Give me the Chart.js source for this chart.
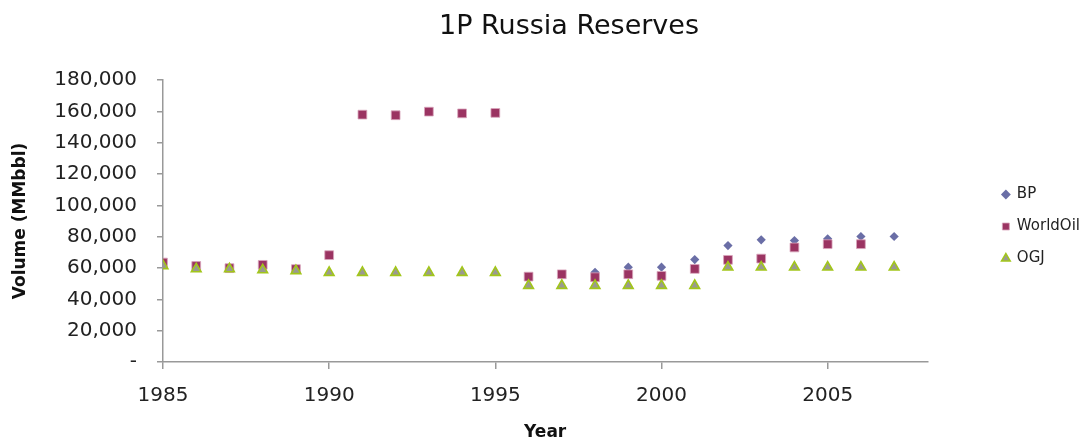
<!DOCTYPE html>
<html>
<head>
<meta charset="utf-8">
<script src="https://cdn.jsdelivr.net/npm/chart.js@4"></script>
<style>
  html, body { margin: 0; padding: 0; background: #fff; }
  #wrap { width: 1086px; height: 441px; }
</style>
</head>
<body>
<div id="wrap"><canvas id="reserves-chart" width="1086" height="441"></canvas></div>
<script>
const years = [1985, 1986, 1987, 1988, 1989, 1990, 1991, 1992, 1993, 1994, 1995, 1996,
               1997, 1998, 1999, 2000, 2001, 2002, 2003, 2004, 2005, 2006, 2007];
const bp = [null, null, null, null, null, null, null, null, null, null, null, null,
            null, 57300, 60500, 60500, 65400, 74300, 78000, 77500, 78600, 80100, 80100];
const worldOil = [63500, 61300, 59900, 62000, 59300, 68200, 157900, 157500, 159800, 158700, 159000, 54500,
                  56000, 54100, 56000, 55000, 59400, 65200, 66000, 73100, 75200, 75200, null];
const ogj = [61400, 59400, 59400, 58800, 58200, 57100, 57100, 57100, 57100, 57100, 57100, 48800,
             48800, 48800, 48800, 48800, 48800, 60500, 60500, 60500, 60500, 60500, 60500];
const yTicks = [0, 20000, 40000, 60000, 80000, 100000, 120000, 140000, 160000, 180000];

const FONT = '"DejaVu Sans", Verdana, sans-serif';

function pairs(values) {
    return years.map((y, i) => ({ x: y, y: values[i] }));
}

// chart title, centred where the original had it
const titlePlugin = {
    id: 'plotTitle',
    afterDraw(chart) {
        const ctx = chart.ctx;
        ctx.save();
        ctx.font = '27px ' + FONT;
        ctx.fillStyle = '#111';
        ctx.textAlign = 'center';
        ctx.textBaseline = 'middle';
        ctx.fillText('1P Russia Reserves', 569, 27);
        ctx.restore();
    }
};

// move the legend box off the plot edge, like the original
const legendShift = {
    id: 'legendShift',
    afterLayout(chart) {
        const lg = chart.legend;
        lg.left += 58; lg.right += 58;
        lg.top -= 34; lg.bottom -= 34;
    }
};

const ctx = document.getElementById('reserves-chart').getContext('2d');
const reservesChart = new Chart(ctx, {
    type: 'scatter',
    data: {
        datasets: [{
            label: 'BP',
            data: pairs(bp),
            pointStyle: 'rectRot',
            pointRadius: 4.6,
            backgroundColor: '#6a6ea6',
            borderColor: '#6a6ea6',
            borderWidth: 0,
            order: 3
        }, {
            label: 'WorldOil',
            data: pairs(worldOil),
            pointStyle: 'rect',
            pointRadius: 6.2,
            backgroundColor: '#9b3462',
            borderColor: '#d9a6bd',
            borderWidth: 0.8,
            order: 2
        }, {
            label: 'OGJ',
            data: pairs(ogj),
            pointStyle: 'triangle',
            pointRadius: 5.6,
            backgroundColor: '#9a9a90',
            borderColor: '#a2c61a',
            borderWidth: 1.6,
            order: 1
        }]
    },
    options: {
        responsive: false,
        animation: false,
        layout: { padding: { top: 80, right: 54, bottom: 0, left: 0 } },
        plugins: {
            title: { display: false },
            tooltip: { enabled: false },
            legend: {
                position: 'right',
                labels: {
                    usePointStyle: true,
                    boxWidth: 7,
                    boxHeight: 7,
                    padding: 17,
                    color: '#222',
                    font: { family: FONT, size: 15 },
                    sort: (a, b) => a.datasetIndex - b.datasetIndex
                }
            }
        },
        scales: {
            x: {
                type: 'linear',
                min: 1985,
                max: 2008,
                afterFit(scale) { scale.height = 79; },
                grid: { drawOnChartArea: false, drawTicks: true, tickLength: 7, color: '#999', lineWidth: 1.5 },
                border: { color: '#999', width: 1.5 },
                ticks: {
                    stepSize: 5,
                    includeBounds: false,
                    padding: 15,
                    color: '#222',
                    font: { family: FONT, size: 20 },
                    callback: (v) => String(v)
                },
                title: {
                    display: true,
                    text: 'Year',
                    color: '#111',
                    padding: { top: 0, bottom: -2 },
                    font: { family: FONT, size: 17, weight: 'bold' }
                }
            },
            y: {
                min: 0,
                max: 180000,
                afterFit(scale) { scale.width = 163; },
                afterBuildTicks(scale) { scale.ticks = yTicks.map(v => ({ value: v })); },
                grid: { drawOnChartArea: false, drawTicks: true, tickLength: 6, color: '#999', lineWidth: 1.5 },
                border: { color: '#999', width: 1.5 },
                ticks: {
                    padding: 20,
                    color: '#222',
                    font: { family: FONT, size: 20 },
                    callback: (v) => v === 0 ? '-' : v.toLocaleString('en-US')
                },
                title: {
                    display: true,
                    text: 'Volume (MMbbl)',
                    color: '#111',
                    padding: { top: 10, bottom: 0 },
                    font: { family: FONT, size: 17, weight: 'bold' }
                }
            }
        }
    },
    plugins: [titlePlugin, legendShift]
});
</script>
</body>
</html>
